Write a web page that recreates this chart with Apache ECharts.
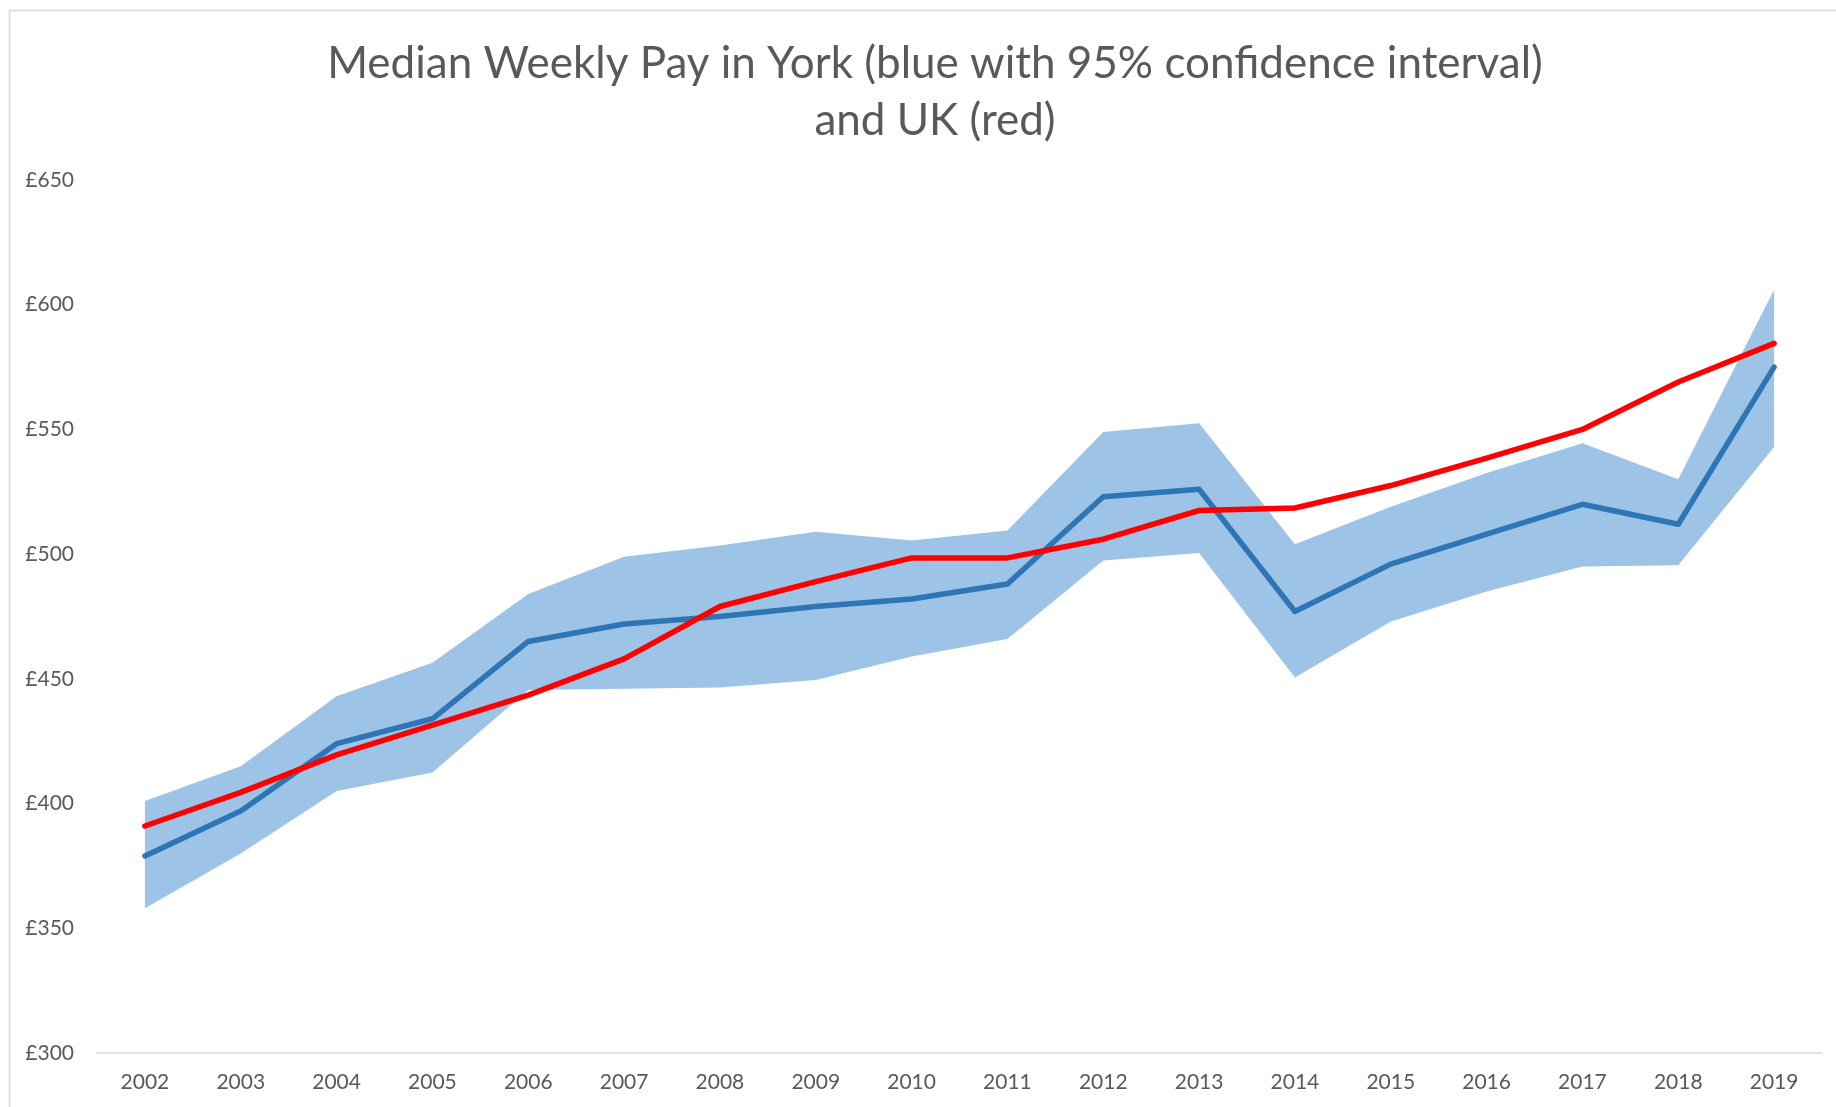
<!DOCTYPE html>
<html>
<head>
<meta charset="utf-8">
<title>Median Weekly Pay in York</title>
<script src="https://cdn.jsdelivr.net/npm/echarts@6/dist/echarts.min.js"></script>
<style>
	html, body { margin: 0; padding: 0; background: #fff; }
	#chart { width: 1836px; height: 1107px; }
</style>
</head>
<body>
<div id="chart"></div>
<script>
var years = ['2002', '2003', '2004', '2005', '2006', '2007', '2008', '2009', '2010',
	'2011', '2012', '2013', '2014', '2015', '2016', '2017', '2018', '2019'];

// York median, with the 95% interval
var york = [379, 397, 424, 434, 465, 472, 475, 479, 482, 488, 523, 526, 477, 496, 508, 520, 512, 575];
var yorkLow = [358, 380, 405, 412.5, 445.5, 446, 446.5, 449.5, 459, 466, 497.5, 500.5, 450.5, 473, 485, 495, 495.5, 543];
var yorkHigh = [401, 415, 443, 456.5, 484, 499, 503.5, 509, 505.5, 509.5, 549, 552.5, 504, 519, 532.5, 544.5, 530, 606];

// UK median
var uk = [391, 404.5, 419.5, 431.5, 443.5, 458, 479, 489, 498.5, 498.5, 506, 517.5, 518.5, 527.5, 538.5, 550, 569, 584.5];

var yTicks = { min: 300, max: 650, step: 50 };

var chart = echarts.init(document.getElementById('chart'));

// band drawn as lower edge + (upper - lower) stacked
var bandWidth = [];
for (var i = 0; i < yorkHigh.length; i++) {
	bandWidth.push(+(yorkHigh[i] - yorkLow[i]).toFixed(1));
}

var grey = '#595959';
var font = 'Lato';

var option = {
	backgroundColor: '#fff',
	animation: false,
	title: {
		text: 'Median Weekly Pay in York (blue with 95% confidence interval)\nand UK (red)',
		left: 930,
		top: 30,
		textAlign: 'center',
		textStyle: {
			color: grey,
			fontFamily: font,
			fontWeight: 'normal',
			fontSize: 44,
			lineHeight: 57
		}
	},
	graphic: [{
		type: 'rect',
		shape: { x: 9.5, y: 10.5, width: 1900, height: 1200 },
		style: { fill: 'none', stroke: '#d9d9d9', lineWidth: 1.5 },
		silent: true
	}],
	grid: {
		left: 97,
		right: 14,
		top: 180,
		bottom: 54
	},
	xAxis: {
		type: 'category',
		data: years,
		boundaryGap: true,
		axisLine: { lineStyle: { color: '#d9d9d9', width: 1.5 } },
		axisTick: { show: false },
		axisLabel: {
			color: grey,
			fontFamily: font,
			fontSize: 21,
			margin: 19
		}
	},
	yAxis: {
		type: 'value',
		min: yTicks.min,
		max: yTicks.max,
		interval: yTicks.step,
		axisLine: { show: false },
		axisTick: { show: false },
		splitLine: { show: false },
		axisLabel: {
			color: grey,
			fontFamily: font,
			fontSize: 21,
			margin: 23,
			formatter: function (v) { return '£' + v; }
		}
	},
	series: [
		{
			name: 'low',
			type: 'line',
			stack: 'ci',
			data: yorkLow,
			symbol: 'none',
			lineStyle: { opacity: 0 },
			silent: true,
			z: 1
		},
		{
			name: 'ci',
			type: 'line',
			stack: 'ci',
			data: bandWidth,
			symbol: 'none',
			lineStyle: { opacity: 0 },
			areaStyle: { color: '#9dc3e6', opacity: 1 },
			silent: true,
			z: 1
		},
		{
			name: 'York',
			type: 'line',
			data: york,
			symbol: 'none',
			lineStyle: { color: '#2e75b6', width: 5.5, cap: 'round', join: 'round' },
			z: 3
		},
		{
			name: 'UK',
			type: 'line',
			data: uk,
			symbol: 'none',
			lineStyle: { color: '#ff0000', width: 5.5, cap: 'round', join: 'round' },
			z: 4
		}
	]
};

chart.setOption(option);
</script>
</body>
</html>
